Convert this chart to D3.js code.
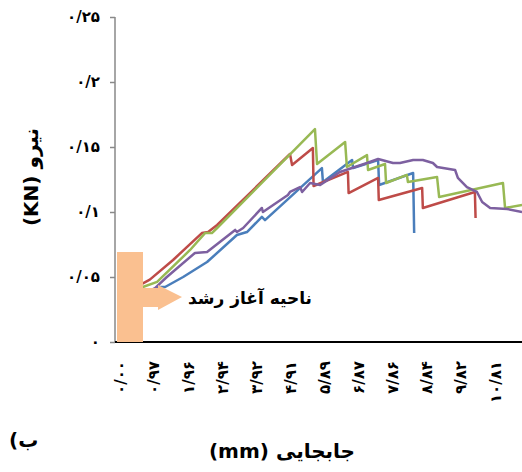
<!DOCTYPE html>
<html>
<head>
<meta charset="utf-8">
<script src="https://cdn.jsdelivr.net/npm/d3@7"></script>
<style>
    body { margin: 0; background: #fff; }
    text { font-family: "DejaVu Sans", sans-serif; }
</style>
</head>
<body>
<svg id="chart" width="522" height="472"></svg>
<script>
// tick values (mm / kN)
var xTicks = [0, 0.97, 1.96, 2.94, 3.92, 4.91, 5.89, 6.87, 7.86, 8.84, 9.82, 10.81];
var yTicks = [0, 0.05, 0.1, 0.15, 0.2, 0.25];

// [displacement mm, force kN]
var blueSeries = [[0, 0.030], [1.15, 0.0423], [1.30, 0.0423], [1.82, 0.050], [2.51, 0.0615],
    [3.37, 0.0823], [3.66, 0.0846], [4.09, 0.0962], [4.18, 0.0938], [5.82, 0.1338],
    [5.85, 0.1231], [6.69, 0.140], [6.72, 0.1338], [7.44, 0.140], [7.47, 0.1208],
    [8.45, 0.130], [8.48, 0.0838]];
var redSeries = [[0, 0.033], [0.58, 0.0440], [0.86, 0.0480], [1.53, 0.0631], [2.36, 0.0838],
    [2.54, 0.0846], [2.80, 0.090], [4.90, 0.1446], [4.96, 0.1362], [5.56, 0.1492],
    [5.58, 0.120], [6.57, 0.1308], [6.59, 0.1146], [7.44, 0.1262], [7.46, 0.1092],
    [8.71, 0.1185], [8.73, 0.1031], [10.23, 0.1154], [10.25, 0.0954]];
var greenSeries = [[0, 0.033], [0.66, 0.0423], [1.07, 0.0462], [2.02, 0.0708], [2.45, 0.0838],
    [2.65, 0.0838], [2.80, 0.0877], [5.62, 0.1638], [5.68, 0.1369], [6.49, 0.1538],
    [6.54, 0.1346], [7.12, 0.1438], [7.15, 0.1323], [7.64, 0.1369], [7.67, 0.1223],
    [8.27, 0.1285], [8.30, 0.1231], [9.14, 0.1269], [9.20, 0.1115], [11.04, 0.1223],
    [11.10, 0.1031], [11.59, 0.1054]];
var purpleSeries = [[0, 0.028], [1.01, 0.0415], [1.35, 0.050], [2.16, 0.0685], [2.51, 0.0692],
    [3.32, 0.0862], [3.37, 0.0846], [3.55, 0.0877], [4.09, 0.1031], [4.12, 0.100],
    [4.84, 0.1131], [4.90, 0.1154], [5.19, 0.1192], [5.25, 0.1154], [5.48, 0.1223],
    [5.77, 0.1208], [6.34, 0.1308], [7.12, 0.1377], [7.44, 0.1408], [7.87, 0.1377],
    [8.07, 0.1377], [8.45, 0.140], [8.73, 0.140], [9.02, 0.1377], [9.14, 0.1346],
    [9.66, 0.1323], [9.74, 0.1262], [10.00, 0.1192], [10.29, 0.1154], [10.44, 0.1077],
    [10.67, 0.1031], [11.16, 0.1023], [11.59, 0.100]];

var series = [
    {name: "blue", color: "#4a7ebb", values: blueSeries},
    {name: "red", color: "#be4b48", values: redSeries},
    {name: "green", color: "#98b954", values: greenSeries},
    {name: "purple", color: "#7d60a0", values: purpleSeries}
];

var toFa = function(s) {
    return s.replace(/[0-9]/g, function(d) { return String.fromCharCode(0x06F0 + (+d)); })
            .replace(/\./g, "/");
};

var svg = d3.select("#chart");
var axisX = 115, plotRight = 522, plotTop = 17, plotBottom = 342;

var x = d3.scaleLinear().domain([0, 10.81]).range([120, 495]);
var y = d3.scaleLinear().domain([0, 0.25]).range([plotBottom, plotTop]);

// y axis
var yAxis = svg.append("g")
    .attr("transform", "translate(" + axisX + ",0)")
    .call(d3.axisLeft(y).tickValues(yTicks).tickSize(5).tickPadding(10)
        .tickFormat(function(d) { return toFa(String(+d.toFixed(2))); }));
yAxis.select(".domain").attr("stroke", "#898989").attr("stroke-width", 1.5)
    .attr("d", "M0," + plotTop + "V" + plotBottom);
yAxis.selectAll(".tick line").attr("stroke", "#898989").attr("stroke-width", 1.5);
yAxis.selectAll(".tick text")
    .style("font-size", "15px").style("font-weight", "bold").attr("fill", "#000");

// x axis
var xAxis = svg.append("g")
    .attr("transform", "translate(0," + plotBottom + ")")
    .call(d3.axisBottom(x).tickValues(xTicks).tickSize(0)
        .tickFormat(function(d) { return toFa(d.toFixed(2)); }));
xAxis.select(".domain").attr("stroke", "#000").attr("stroke-width", 2)
    .attr("d", "M" + axisX + ",0H" + plotRight);
xAxis.selectAll(".tick text")
    .attr("transform", "rotate(-90)")
    .attr("x", -19).attr("y", 0).attr("dy", "0.35em")
    .attr("text-anchor", "end")
    .style("font-size", "15px").style("font-weight", "bold").attr("fill", "#000");

// curves
var line = d3.line()
    .x(function(d) { return x(d[0]); })
    .y(function(d) { return y(d[1]); });

svg.append("g").selectAll("path.curve")
    .data(series)
  .enter().append("path")
    .attr("class", "curve")
    .attr("fill", "none")
    .attr("stroke", function(d) { return d.color; })
    .attr("stroke-width", 2.5)
    .attr("stroke-linejoin", "round")
    .attr("d", function(d) { return line(d.values); });

// start-of-growth callout
svg.append("path")
    .attr("fill", "#fac090")
    .attr("d", "M117,252H143V288H158V285L182,297L158,310V307H143V" + plotBottom + "H117Z");

svg.append("text")
    .attr("x", 312).attr("y", 304)
    .attr("direction", "rtl")
    .attr("text-anchor", "start")
    .style("font-size", "17px").style("font-weight", "bold")
    .text("ناحیه آغاز رشد");

// titles
svg.append("text")
    .attr("transform", "translate(38,177) rotate(-90)")
    .attr("direction", "rtl")
    .attr("text-anchor", "middle")
    .style("font-size", "20px").style("font-weight", "bold")
    .text("نیرو (KN)");

svg.append("text")
    .attr("x", 282).attr("y", 458)
    .attr("direction", "rtl")
    .attr("text-anchor", "middle")
    .style("font-size", "20px").style("font-weight", "bold")
    .text("جابجایی (mm)");

svg.append("text")
    .attr("x", 9).attr("y", 447)
    .attr("direction", "ltr")
    .style("font-size", "20px").style("font-weight", "bold")
    .text("\u200E(\u200Eب");
</script>
</body>
</html>
